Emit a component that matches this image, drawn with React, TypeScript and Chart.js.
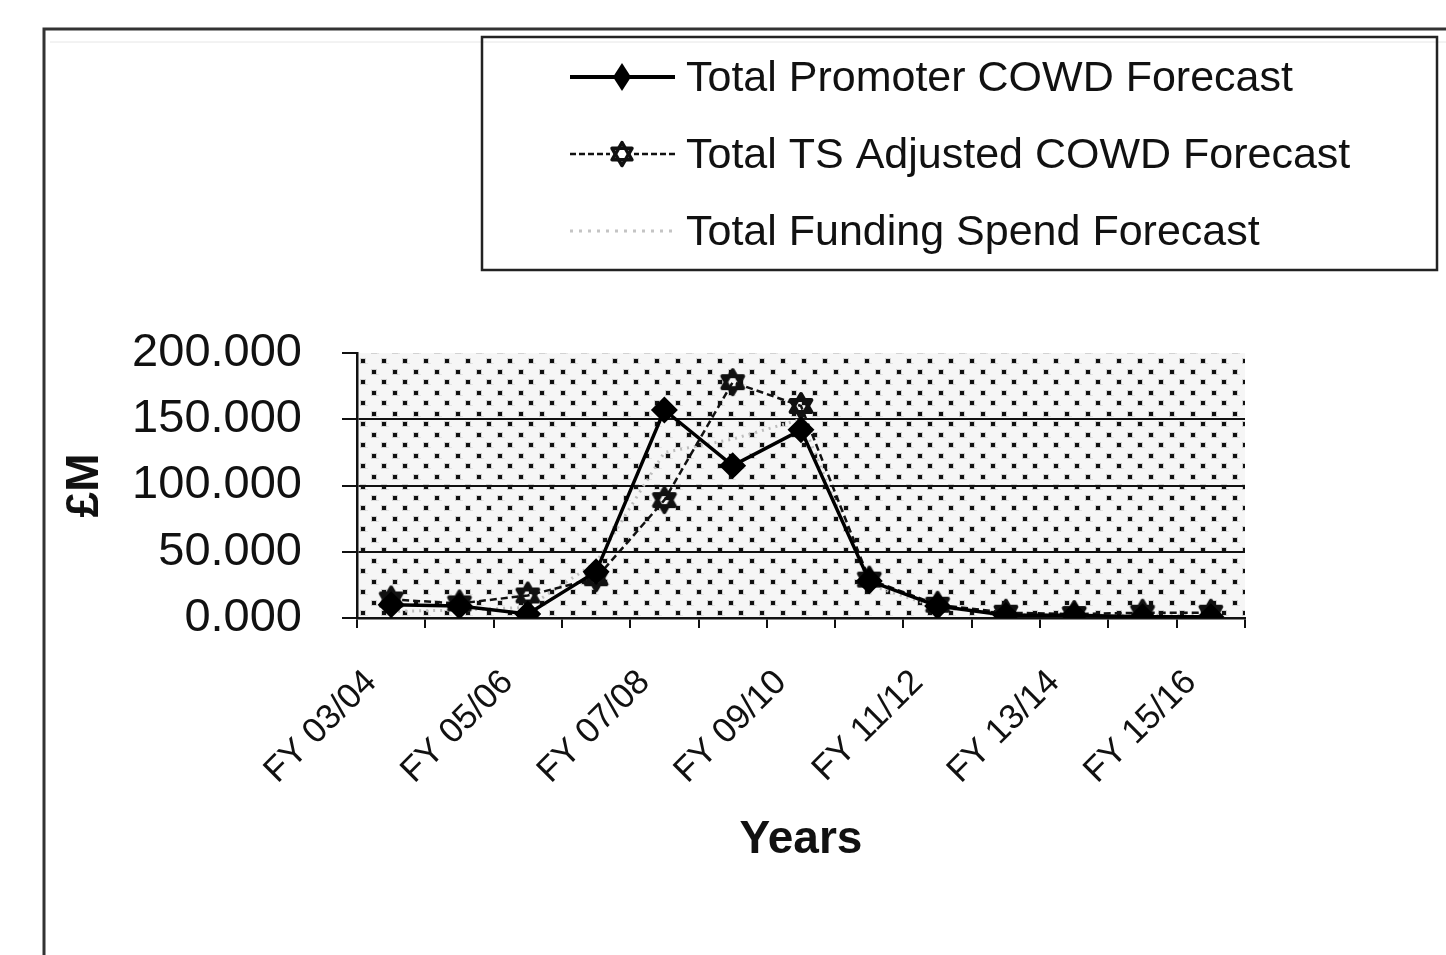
import React, { useEffect, useRef } from "react";
import { Chart, registerables } from "chart.js";

Chart.register(...registerables);

// ---------- data ----------
const categories = [
  "FY 03/04", "FY 04/05", "FY 05/06", "FY 06/07", "FY 07/08", "FY 08/09", "FY 09/10",
  "FY 10/11", "FY 11/12", "FY 12/13", "FY 13/14", "FY 14/15", "FY 15/16",
];
const promoterCOWD = [10, 9, 3, 35, 157, 115, 142, 28, 9, 2, 2, 1, 1];
const tsAdjustedCOWD = [14, 11, 17, 30, 89, 178, 160, 29, 10, 4, 3, 4, 4];
const fundingSpend = [5, 6, 8, 42, 125, 135, 150, 25, 8, 3, 2, 2, 2];
const yTickValues = [0, 50, 100, 150, 200];
const seriesNames = [
  "Total Promoter COWD Forecast",
  "Total TS Adjusted COWD Forecast",
  "Total Funding Spend Forecast",
];
const xTitle = "Years";
const yTitle = "£M";

const FONT = "'Liberation Sans', Arial, Helvetica, sans-serif";
const INK = "#111";

function makeStar(size: number, lw: number): HTMLCanvasElement {
  const c = document.createElement("canvas");
  c.width = size;
  c.height = size;
  const ctx = c.getContext("2d")!;
  const cx = size / 2;
  const r = size / 2 - lw;
  ctx.strokeStyle = INK;
  ctx.lineWidth = lw;
  ctx.lineJoin = "round";
  for (const base of [-Math.PI / 2, Math.PI / 2]) {
    ctx.beginPath();
    for (let k = 0; k < 3; k++) {
      const a = base + (k * 2 * Math.PI) / 3;
      const x = cx + r * Math.cos(a);
      const y = cx + r * Math.sin(a);
      if (k === 0) ctx.moveTo(x, y);
      else ctx.lineTo(x, y);
    }
    ctx.closePath();
    ctx.stroke();
  }
  return c;
}

function makeDotTile(): HTMLCanvasElement {
  const c = document.createElement("canvas");
  c.width = 21;
  c.height = 21;
  const ctx = c.getContext("2d")!;
  ctx.fillStyle = "#f6f6f6";
  ctx.fillRect(0, 0, 21, 21);
  ctx.fillStyle = "#d2d2d2";
  ctx.fillRect(0, 0, 6, 6);
  ctx.fillRect(10, 10, 6, 6);
  ctx.fillStyle = "#e4e4e4";
  ctx.fillRect(6, 5, 2, 1);
  ctx.fillRect(16, 15, 2, 1);
  ctx.fillStyle = "#101010";
  ctx.fillRect(1, 1, 4, 4);
  ctx.fillRect(11, 11, 4, 4);
  return c;
}

export default function App() {
  const ref = useRef<HTMLCanvasElement | null>(null);

  useEffect(() => {
    const canvas = ref.current;
    if (!canvas) return;
    const star = makeStar(32, 4);
    const starSmall = makeStar(30, 3.5);
    const tile = makeDotTile();

    const backdrop = {
      id: "backdrop",
      beforeDraw(chart: any) {
        const { ctx, chartArea, width, height } = chart;
        ctx.save();
        ctx.fillStyle = "#fff";
        ctx.fillRect(0, 0, width, height);
        // outer chart frame (top and left edges visible)
        ctx.strokeStyle = "#333";
        ctx.lineWidth = 3;
        ctx.beginPath();
        ctx.moveTo(44, height + 5);
        ctx.lineTo(44, 29);
        ctx.lineTo(width + 5, 29);
        ctx.stroke();
        ctx.strokeStyle = "#e6e6e6";
        ctx.lineWidth = 1;
        ctx.beginPath();
        ctx.moveTo(50, 42);
        ctx.lineTo(width, 42);
        ctx.stroke();
        // patterned plot area
        const pat = ctx.createPattern(tile, "repeat");
        ctx.translate(chartArea.left + 14, chartArea.top + 16);
        ctx.fillStyle = pat;
        ctx.fillRect(-14, -16, chartArea.right - chartArea.left, chartArea.bottom - chartArea.top);
        ctx.restore();
      },
    };

    const boxLegend = {
      id: "boxLegend",
      afterDraw(chart: any) {
        const { ctx } = chart;
        ctx.save();
        ctx.strokeStyle = "#222";
        ctx.lineWidth = 2.5;
        ctx.strokeRect(482, 37, 955, 233);
        const rows = [77, 154, 231];
        const x0 = 570;
        const x1 = 675;
        const xm = 622;
        // row 1: solid + diamond
        let y = rows[0];
        ctx.strokeStyle = "#000";
        ctx.lineWidth = 4;
        ctx.setLineDash([]);
        ctx.beginPath();
        ctx.moveTo(x0, y);
        ctx.lineTo(x1, y);
        ctx.stroke();
        ctx.fillStyle = "#000";
        ctx.beginPath();
        ctx.moveTo(xm, y - 14);
        ctx.lineTo(xm + 9, y);
        ctx.lineTo(xm, y + 14);
        ctx.lineTo(xm - 9, y);
        ctx.closePath();
        ctx.fill();
        // row 2: dashed + star
        y = rows[1];
        ctx.lineWidth = 2.5;
        ctx.strokeStyle = INK;
        ctx.setLineDash([6, 3]);
        ctx.beginPath();
        ctx.moveTo(x0, y);
        ctx.lineTo(x1, y);
        ctx.stroke();
        ctx.setLineDash([]);
        ctx.fillStyle = "#fff";
        ctx.fillRect(xm - 12, y - 12, 24, 24);
        ctx.drawImage(starSmall, xm - 15, y - 15);
        // row 3: light dotted
        y = rows[2];
        ctx.strokeStyle = "#c4c4c4";
        ctx.lineWidth = 3;
        ctx.setLineDash([3, 6]);
        ctx.beginPath();
        ctx.moveTo(x0, y);
        ctx.lineTo(x1, y);
        ctx.stroke();
        ctx.setLineDash([]);
        // text
        ctx.fillStyle = INK;
        ctx.font = `43px ${FONT}`;
        ctx.textBaseline = "middle";
        ctx.textAlign = "left";
        seriesNames.forEach((n, i) => ctx.fillText(n, 686, rows[i] + 2));
        ctx.restore();
      },
    };

    const chart = new Chart(canvas, {
      type: "line",
      data: {
        labels: categories,
        datasets: [
          {
            label: seriesNames[0],
            data: promoterCOWD,
            borderColor: "#000",
            borderWidth: 3.5,
            pointStyle: "rectRot",
            pointRadius: 11,
            pointBackgroundColor: "#000",
            pointBorderColor: "#000",
            tension: 0,
          },
          {
            label: seriesNames[1],
            data: tsAdjustedCOWD,
            borderColor: INK,
            borderWidth: 2.5,
            borderDash: [7, 4],
            pointStyle: star as any,
            pointRadius: 16,
            tension: 0,
          },
          {
            label: seriesNames[2],
            data: fundingSpend,
            borderColor: "#bdbdbd",
            borderWidth: 3,
            borderDash: [2, 5],
            pointRadius: 0,
            tension: 0,
          },
        ],
      },
      options: {
        responsive: false,
        animation: false,
        layout: { padding: { left: 44, right: 201, top: 353, bottom: 87 } },
        plugins: {
          legend: { display: false },
          tooltip: { enabled: false },
        },
        scales: {
          x: {
            type: "category",
            offset: true,
            grid: {
              offset: true,
              drawOnChartArea: false,
              drawTicks: true,
              tickLength: 10,
              color: INK,
              lineWidth: 2,
            },
            border: { color: INK, width: 2.5 },
            ticks: {
              autoSkip: false,
              maxRotation: 45,
              minRotation: 45,
              padding: 34,
              labelOffset: -20,
              color: INK,
              font: { family: FONT, size: 35 },
              callback: (_v: any, i: number) => (i % 2 === 0 ? categories[i] : ""),
            },
            title: {
              display: true,
              text: xTitle,
              color: INK,
              font: { family: FONT, size: 46, weight: "bold" },
              padding: { top: 0, bottom: 0 },
            },
            afterFit: (s: any) => {
              s.height = 250;
            },
          },
          y: {
            min: 0,
            max: 200,
            afterBuildTicks: (s: any) => {
              s.ticks = yTickValues.map((v) => ({ value: v }));
            },
            grid: {
              color: (c: any) =>
                c.tick && (c.tick.value === 0 || c.tick.value === 200) ? "rgba(0,0,0,0)" : INK,
              lineWidth: 2,
              tickColor: INK,
              tickLength: 15,
            },
            border: { color: INK, width: 2.5 },
            ticks: {
              padding: 40,
              color: INK,
              font: { family: FONT, size: 47 },
              callback: (v: any) => Number(v).toFixed(3),
            },
            title: {
              display: true,
              text: yTitle,
              color: INK,
              font: { family: FONT, size: 46, weight: "bold" },
              padding: { top: 14, bottom: 0 },
            },
            afterFit: (s: any) => {
              s.width = 313;
            },
          },
        },
      },
      plugins: [backdrop, boxLegend],
    });
    return () => chart.destroy();
  }, []);

  return (
    <div style={{ position: "fixed", left: 0, top: 0, width: 1446, height: 955, background: "#fff" }}>
      <canvas ref={ref} width={1446} height={955} style={{ width: 1446, height: 955, display: "block" }} />
    </div>
  );
}
